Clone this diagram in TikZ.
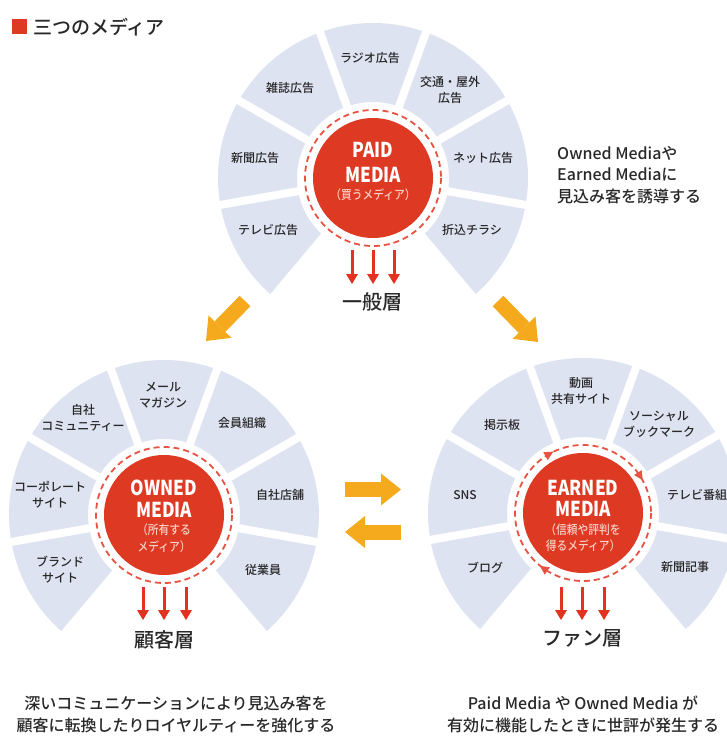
\documentclass[tikz,border=0pt]{standalone}
\usepackage{fontspec}
\setmainfont{Noto Sans CJK JP}
\newfontfamily\medfont[UprightFont=* Medium]{Noto Sans CJK JP}
\newfontfamily\condfont[FakeStretch=0.84]{Noto Sans CJK JP}
\newfontfamily\condmed[FakeStretch=0.86,UprightFont=* Medium]{Noto Sans CJK JP}
\usetikzlibrary{arrows.meta}
\definecolor{segblue}{RGB}{222,227,241}
\definecolor{corered}{RGB}{221,57,35}
\definecolor{ringred}{RGB}{232,82,66}
\definecolor{subpink}{RGB}{250,208,198}
\definecolor{orangeA}{RGB}{245,170,30}
\definecolor{arrowred}{RGB}{226,50,32}
\definecolor{txt}{RGB}{40,40,40}
\newcommand{\mediafan}[1]{%
  \begin{scope}[shift={#1}]
    \fill[segfill] (-230:76) -- (-230:155) arc[start angle=-230,end angle=50,radius=155]
      -- (50:76) arc[start angle=50,end angle=-230,radius=76] -- cycle;
    \foreach \a in {-230,-190,-150,-110,-70,-30,10,50}
      \draw[gapline] (\a:71) -- (\a:160);
  \end{scope}}
\begin{document}
\begin{tikzpicture}[x=1pt,y=-1pt,
  segfill/.style={fill=segblue},
  gapline/.style={draw=white,line width=8pt},
  core/.style={circle,fill=corered,minimum size=120pt,inner sep=0pt},
  ring/.style={draw=ringred,line width=1.8pt,dash pattern=on 6pt off 4pt},
  seglab/.style={font=\medfont\fontsize{12}{16}\selectfont,text=txt,align=center,inner sep=0pt},
  coretitle/.style={font=\condfont\bfseries\fontsize{20.5}{24}\selectfont,text=white,inner sep=0pt},
  coresub/.style={font=\condmed\fontsize{12.5}{16}\selectfont,text=subpink,inner sep=0pt},
  redarr/.style={draw=arrowred,line width=3pt,-{Triangle[width=12pt,length=10pt,line width=0pt]}},
  orarr/.style={draw=orangeA,line width=15pt,-{Triangle[width=32pt,length=20pt,line width=0pt]}},
  layerlab/.style={font=\medfont\fontsize{20}{22}\selectfont,text=txt,inner sep=0pt},
  note/.style={font=\medfont\fontsize{16}{22}\selectfont,text=txt,align=center,inner sep=0pt},
  ringtip/.style={fill=ringred},
]
\path[use as bounding box] (0,0) rectangle (727,738);
\clip (0,0) rectangle (727,738);

% ---------- title ----------
\node[fill=corered,minimum size=15pt,inner sep=0pt] (tsq) at (19.5,27) {};
\node[anchor=west,font=\medfont\fontsize{19}{20}\selectfont,text=txt,inner sep=0pt] (title) at (33,27) {三つのメディア};

% ---------- fans ----------
\mediafan{(373,178)}
\mediafan{(164,515)}
\mediafan{(583,513)}

% ---------- PAID ----------
\draw[ring] (373,178) circle[radius=68];
\node[core] (paid) at (373,178) {};
\node[coretitle] (paidt1) at (373,150) {PAID};
\node[coretitle] (paidt2) at (373,175) {MEDIA};
\node[coresub] (paids) at (373,195) {（買うメディア）};
\node[seglab] (p1) at (370,58) {ラジオ広告};
\node[seglab] (p2) at (450,90) {交通・屋外\\広告};
\node[seglab] (p3) at (290,88) {雑誌広告};
\node[seglab] (p4) at (255,158) {新聞広告};
\node[seglab] (p5) at (483,158) {ネット広告};
\node[seglab] (p6) at (268,230) {テレビ広告};
\node[seglab] (p7) at (472,230) {折込チラシ};
\coordinate (pa1) at (352,250); \coordinate (pb1) at (352,284);
\coordinate (pa2) at (373,250); \coordinate (pb2) at (373,284);
\coordinate (pa3) at (394,250); \coordinate (pb3) at (394,284);
\draw[redarr] (pa1) -- (pb1);
\draw[redarr] (pa2) -- (pb2);
\draw[redarr] (pa3) -- (pb3);
\node[layerlab] (ippan) at (372,302) {一般層};

% ---------- OWNED ----------
\draw[ring] (164,515) circle[radius=68];
\node[core] (owned) at (164,515) {};
\node[coretitle] (ownt1) at (164,488) {OWNED};
\node[coretitle] (ownt2) at (164,510) {MEDIA};
\node[coresub] (owns1) at (164,530) {（所有する};
\node[coresub] (owns2) at (164,547) {メディア）};
\node[seglab] (o1) at (163,395) {メール\\マガジン};
\node[seglab] (o2) at (83,418) {自社\\コミュニティー};
\node[seglab] (o3) at (242,423) {会員組織};
\node[seglab] (o4) at (50,495) {コーポレート\\サイト};
\node[seglab] (o5) at (280,495) {自社店舗};
\node[seglab] (o6) at (60,570) {ブランド\\サイト};
\node[seglab] (o7) at (263,570) {従業員};
\coordinate (oa1) at (143,587); \coordinate (ob1) at (143,620);
\coordinate (oa2) at (164,587); \coordinate (ob2) at (164,620);
\coordinate (oa3) at (186,587); \coordinate (ob3) at (186,620);
\draw[redarr] (oa1) -- (ob1);
\draw[redarr] (oa2) -- (ob2);
\draw[redarr] (oa3) -- (ob3);
\node[layerlab] (kokyaku) at (164,640) {顧客層};

% ---------- EARNED ----------
\draw[ring] (583,513) circle[radius=68];
\foreach \phi in {120,33,235}{
  \begin{scope}[shift={(583,513)},shift={(-\phi:68)},rotate=\phi-90]
    \fill[ringtip] (5,0) -- (-4,4.5) -- (-4,-4.5) -- cycle;
  \end{scope}}
\node[core] (earned) at (583,513) {};
\node[coretitle] (earnt1) at (583,488) {EARNED};
\node[coretitle] (earnt2) at (583,509) {MEDIA};
\node[coresub] (earns1) at (583,530) {（信頼や評判を};
\node[coresub] (earns2) at (583,546) {得るメディア）};
\node[seglab] (e1) at (581,391) {動画\\共有サイト};
\node[seglab] (e2) at (502,425) {掲示板};
\node[seglab] (e3) at (659,424) {ソーシャル\\ブックマーク};
\node[seglab] (e4) at (465,495) {SNS};
\node[seglab,anchor=west] (e5) at (667,495) {テレビ番組};
\node[seglab] (e6) at (485,568) {ブログ};
\node[seglab] (e7) at (685,567) {新聞記事};
\coordinate (ea1) at (561,587); \coordinate (eb1) at (561,620);
\coordinate (ea2) at (582,587); \coordinate (eb2) at (582,620);
\coordinate (ea3) at (604,587); \coordinate (eb3) at (604,620);
\draw[redarr] (ea1) -- (eb1);
\draw[redarr] (ea2) -- (eb2);
\draw[redarr] (ea3) -- (eb3);
\node[layerlab] (fan) at (582,638) {ファン層};

% ---------- orange arrows ----------
\coordinate (dl1) at (245,301); \coordinate (dl2) at (206,341);
\coordinate (dr1) at (498,301); \coordinate (dr2) at (538,342);
\coordinate (hr1) at (345,489.5); \coordinate (hr2) at (401,489.5);
\coordinate (hl1) at (401,532); \coordinate (hl2) at (345,532);
\draw[orarr] (dl1) -- (dl2);
\draw[orarr] (dr1) -- (dr2);
\draw[orarr] (hr1) -- (hr2);
\draw[orarr] (hl1) -- (hl2);

% ---------- notes ----------
\node[note,anchor=west,align=left,font=\medfont\fontsize{16}{21.5}\selectfont] (rnote) at (557,175)
  {Owned Mediaや\\Earned Mediaに\\見込み客を誘導する};
\node[note] (lnote) at (176,714)
  {深いコミュニケーションにより見込み客を\\顧客に転換したりロイヤルティーを強化する};
\node[note] (bnote) at (583,714)
  {Paid Media や Owned Media が\\有効に機能したときに世評が発生する};
\end{tikzpicture}
\end{document}
